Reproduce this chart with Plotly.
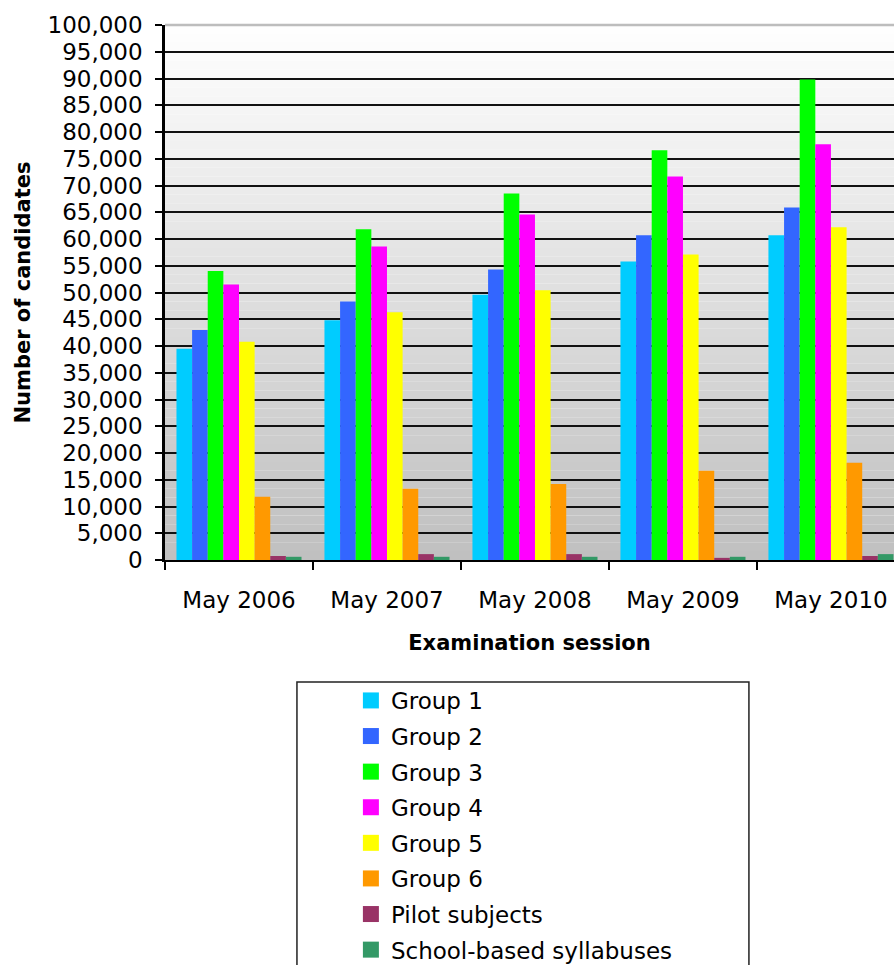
import plotly.graph_objects as go

sessions = ["May 2006", "May 2007", "May 2008", "May 2009", "May 2010"]
group1 = [39500, 44800, 49600, 55800, 60700]
group2 = [43000, 48300, 54300, 60700, 65900]
group3 = [54000, 61800, 68500, 76600, 89800]
group4 = [51500, 58600, 64600, 71700, 77700]
group5 = [40800, 46300, 50400, 57100, 62200]
group6 = [11800, 13300, 14200, 16700, 18200]
pilot = [750, 1100, 1100, 400, 750]
school = [600, 600, 600, 600, 1100]

series_names = ["Group 1", "Group 2", "Group 3", "Group 4", "Group 5", "Group 6",
                "Pilot subjects", "School-based syllabuses"]
series_values = [group1, group2, group3, group4, group5, group6, pilot, school]
series_colors = ["#00CCFF", "#3366FF", "#00FF00", "#FF00FF", "#FFFF00", "#FF9900",
                 "#993366", "#339966"]

FONT = "DejaVu Sans"

fig = go.Figure()
for name, vals, col in zip(series_names, series_values, series_colors):
    fig.add_trace(go.Bar(x=sessions, y=vals, name=name, marker_color=col,
                         marker_line_width=0, legendgroup=name, showlegend=False))
# legend entries with larger square swatches
for name, col in zip(series_names, series_colors):
    fig.add_trace(go.Scatter(x=[None], y=[None], mode="markers", name=name,
                             legendgroup=name,
                             marker=dict(symbol="square", size=16, color=col)))

# gradient background (white at top to grey at bottom)
n = 60
shapes = []
for i in range(n):
    t = (i + 0.5) / n
    v = int(round(255 - (255 - 191) * t))
    shapes.append(dict(type="rect", xref="x domain", yref="y domain",
                       x0=0, x1=1, y0=1 - (i + 1) / n, y1=1 - i / n,
                       fillcolor=f"rgb({v},{v},{v})", line_width=0, layer="below"))
# light top border of plot area
shapes.append(dict(type="line", xref="x domain", yref="y domain", x0=0, x1=1, y0=1, y1=1,
                   line=dict(color="#BDBDBD", width=2.5), layer="above"))
# legend frame
shapes.append(dict(type="rect", xref="paper", yref="paper",
                   x0=0.181, x1=0.801, y0=-0.79, y1=-0.228,
                   line=dict(color="#222222", width=1.5), fillcolor="rgba(0,0,0,0)"))

fig.update_layout(
    width=894, height=965,
    margin=dict(l=165, r=0, t=25, b=405, autoexpand=False),
    paper_bgcolor="white",
    plot_bgcolor="rgba(0,0,0,0)",
    font=dict(family=FONT, size=23, color="black"),
    barmode="group", bargap=0.155, bargroupgap=0,
    shapes=shapes,
    showlegend=True,
    legend=dict(x=0.255, xanchor="left", y=-0.2224, yanchor="top",
                font=dict(family=FONT, size=23, color="black"),
                bgcolor="rgba(0,0,0,0)", borderwidth=0, itemsizing="trace",
                traceorder="grouped", tracegroupgap=2.7),
)
fig.update_xaxes(
    range=[-0.5, 4.426], showline=True, linecolor="black", linewidth=2,
    ticks="outside", tickson="boundaries", ticklen=8, tickwidth=2, tickcolor="black",
    ticklabelstandoff=18, showgrid=False, automargin=False,
    title=dict(text="<b>Examination session</b>", font=dict(family=FONT, size=21), standoff=24),
)
fig.update_yaxes(
    range=[0, 100000], dtick=5000, tickformat=",", showline=True, linecolor="black",
    linewidth=2.5, ticks="outside", ticklen=7, tickwidth=1.5, tickcolor="black",
    ticklabelstandoff=8, automargin=False,
    showgrid=True, gridcolor="#111111", gridwidth=2, zeroline=False,
    title=dict(text="<b>Number of candidates</b>", font=dict(family=FONT, size=21), standoff=12),
)

fig.write_html("out.html", config={"displayModeBar": False},
               post_script="document.body.style.margin='0';document.body.style.overflow='hidden';")
